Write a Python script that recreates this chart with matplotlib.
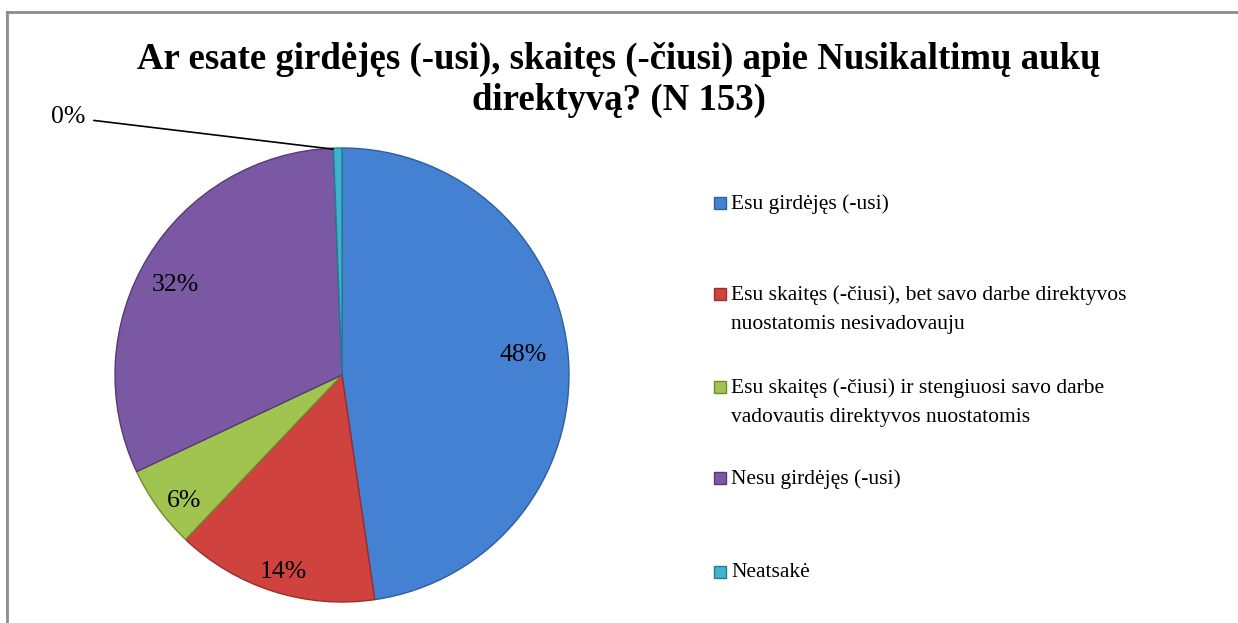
import matplotlib
matplotlib.use("Agg")
import matplotlib.pyplot as plt
import numpy as np
from matplotlib.patches import Rectangle
from matplotlib.lines import Line2D

categories = [
    "Esu girdėjęs (-usi)",
    "Esu skaitęs (-čiusi), bet savo darbe direktyvos\nnuostatomis nesivadovauju",
    "Esu skaitęs (-čiusi) ir stengiuosi savo darbe\nvadovautis direktyvos nuostatomis",
    "Nesu girdėjęs (-usi)",
    "Neatsakė",
]
values = [47.7, 14.4, 5.9, 31.4, 0.6]
pct_labels = ["48%", "14%", "6%", "32%", "0%"]
colors = ["#4481D2", "#CF423E", "#A0C44F", "#7B58A3", "#3DB3CC"]
edges = ["#2F5E9C", "#9A2E2B", "#6F8E2E", "#553A78", "#237E92"]

plt.rcParams["font.family"] = ["Liberation Serif", "DejaVu Serif"]

W, H = 1238, 623
fig = plt.figure(figsize=(W / 100, H / 100), dpi=100)

# frame (only left and top edges visible in the reference)
fig.add_artist(Line2D([7 / W, 7 / W], [0, 1 - 12 / H], transform=fig.transFigure,
                      color="#8C8C8C", lw=2))
fig.add_artist(Line2D([7 / W, 1], [1 - 12 / H, 1 - 12 / H], transform=fig.transFigure,
                      color="#8C8C8C", lw=2))

cx, cy, R = 342, 375, 227
ax = fig.add_axes([(cx - R) / W, (H - cy - R) / H, 2 * R / W, 2 * R / H])
wedges, _ = ax.pie(values, colors=colors, startangle=90, counterclock=False,
                   radius=1.0, wedgeprops=dict(linewidth=1.0))
for w, ec in zip(wedges, edges):
    w.set_edgecolor(ec)
ax.set_xlim(-1, 1)
ax.set_ylim(-1, 1)
ax.set_aspect("equal")
ax.axis("off")

# percentage labels inside the slices
tot = sum(values)
start = 90.0
for i, (v, lab) in enumerate(zip(values, pct_labels)):
    mid = np.deg2rad(start - v / tot * 360 / 2)
    start -= v / tot * 360
    if i == 4:
        ax.annotate(lab, xy=(np.cos(mid) - 0.02, np.sin(mid) - 0.005),
                    xytext=(-1.13, 1.135), fontsize=18.5, ha="right", va="center",
                    annotation_clip=False,
                    arrowprops=dict(arrowstyle="-", color="black", lw=1.2,
                                    shrinkA=4, shrinkB=0))
        continue
    r, dy = (0.8, 0.03) if i == 0 else (0.86, -0.05)
    ax.text(np.cos(mid) * r, np.sin(mid) * r + dy, lab, fontsize=18.5,
            ha="center", va="center")

fig.text(0.5, 1 - 80 / H,
         "Ar esate girdėjęs (-usi), skaitęs (-čiusi) apie Nusikaltimų aukų\ndirektyvą? (N 153)",
         ha="center", va="center", fontsize=26.5, fontweight="bold", linespacing=1.2)

# legend
leg_y = [203, 294, 387, 478, 572]
for lab, col, ec, y in zip(categories, colors, edges, leg_y):
    fig.add_artist(Rectangle((714 / W, 1 - (y + 6) / H), 12 / W, 12 / H,
                             transform=fig.transFigure, facecolor=col,
                             edgecolor=ec, lw=1))
    fig.text(731 / W, 1 - (y - 9) / H, lab, fontsize=15.5, ha="left", va="top",
             linespacing=1.75)

fig.savefig("out.png", dpi=100)
